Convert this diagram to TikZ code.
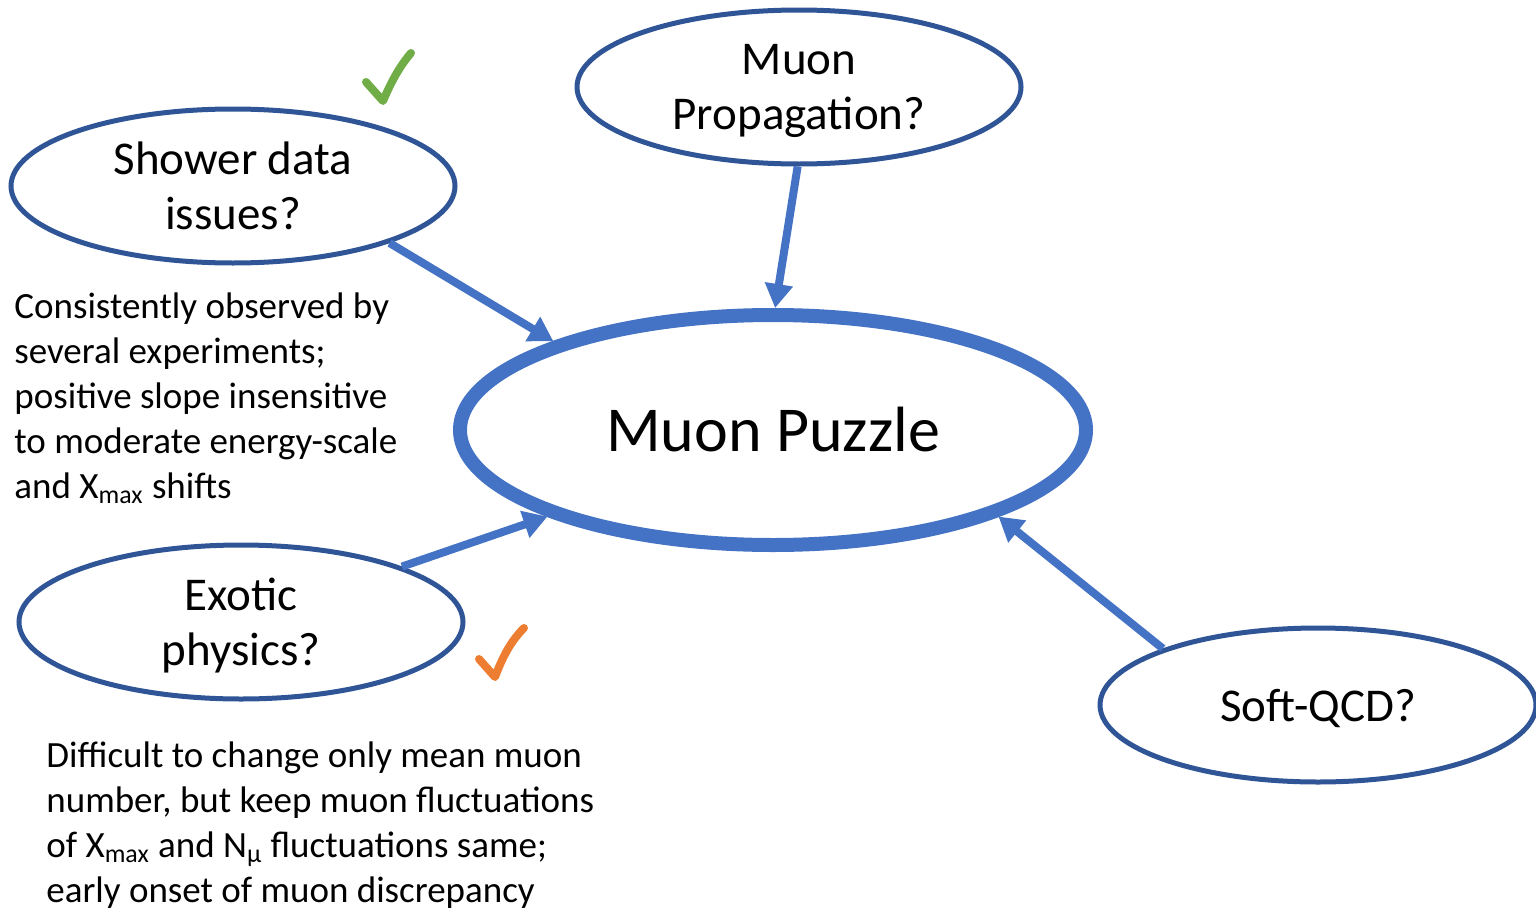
\documentclass[tikz,border=0pt]{standalone}
\usepackage{fontspec}
\setmainfont{Carlito}
\usetikzlibrary{shapes.geometric,arrows.meta}
\definecolor{ringblue}{HTML}{2F5597}
\definecolor{arrowblue}{HTML}{4472C4}
\definecolor{tickgreen}{HTML}{70AD47}
\definecolor{tickorange}{HTML}{ED7D31}

\begin{document}
\begin{tikzpicture}[x=0.5pt,y=-0.5pt,
    bubble/.style={ellipse,draw=ringblue,line width=2.5pt,fill=white,minimum width=222pt,minimum height=77pt,inner sep=0pt,text depth=0pt,align=center,font=\fontsize{23.5}{27.5}\selectfont},
    link/.style={draw=arrowblue,line width=4pt,-{Triangle[length=12pt,width=13.5pt]}},
    note/.style={anchor=north west,inner sep=0pt,align=left,font=\fontsize{18.5}{22.5}\selectfont},
    tick/.style={line width=4pt,line cap=round,line join=round}]
      \useasboundingbox (0,0) rectangle (1536,910);

      \node [ellipse,draw=arrowblue,line width=7pt,minimum width=313pt,minimum height=115pt,inner sep=0pt,font=\fontsize{32}{38}\selectfont] (puzzle) at (773,430) {Muon Puzzle};
      \node [bubble] (shower) at (233,186) {Shower data\\issues?};
      \node [bubble] (prop) at (799,87) {Muon\\Propagation?};
      \node [bubble] (exotic) at (241,622) {Exotic\\physics?};
      \node [bubble,minimum width=218pt] (soft) at (1318,705) {Soft-QCD?};

      \draw [link] (shower.-20) -- (puzzle.158);
      \draw [link] (prop.-91) -- (puzzle.89);
      \draw [link] (exotic.19) -- (puzzle.201);
      \draw [link] (soft.160) -- (puzzle.-21);

      \node [note] (shownote) at (14,292) {Consistently observed by\\several experiments;\\positive slope insensitive\\to moderate energy-scale\\and X\textsubscript{max} shifts};
      \node [note] (exonote) at (46,741) {Difficult to change only mean muon\\number, but keep muon fluctuations\\of X\textsubscript{max} and N\textsubscript{μ} fluctuations same;\\early onset of muon discrepancy};

      \draw [tick,tickgreen] (366,82) -- (383,101) .. controls (392,80) and (400,66) .. (411,53);
      \draw [tick,tickorange] (479,659) -- (495,677) .. controls (503,656) and (511,641) .. (524,628);
    \end{tikzpicture}
\end{document}
